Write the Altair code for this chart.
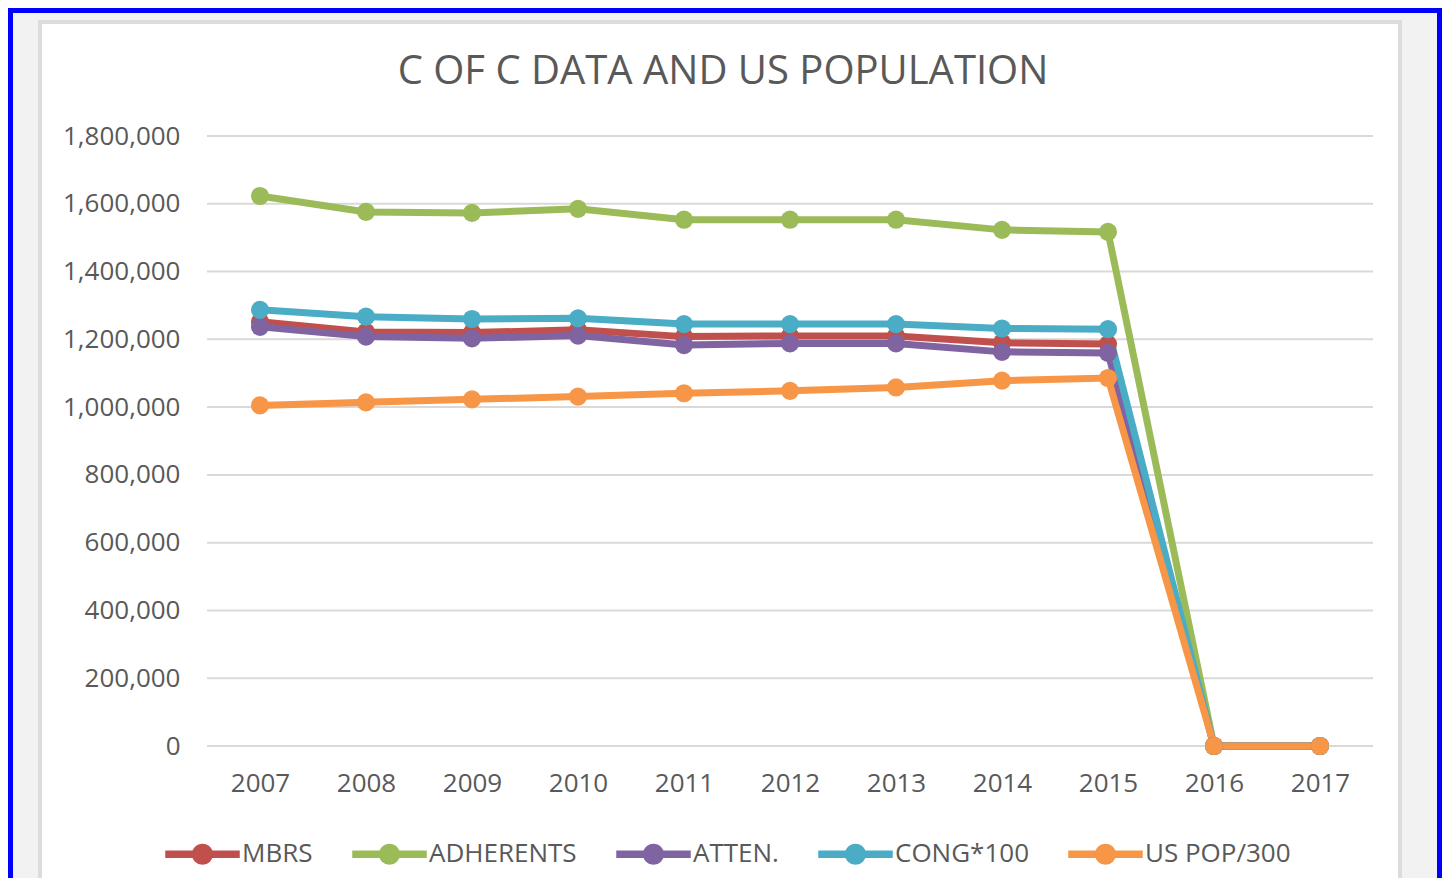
import altair as alt
import pandas as pd

years = ["2007", "2008", "2009", "2010", "2011", "2012", "2013", "2014", "2015", "2016", "2017"]
series_names = ["MBRS", "ADHERENTS", "ATTEN.", "CONG*100", "US POP/300"]
colors = ["#c0504d", "#9bbb59", "#8064a2", "#4bacc6", "#f79646"]
y_ticks = [0, 200000, 400000, 600000, 800000, 1000000, 1200000, 1400000, 1600000, 1800000]
title_text = "C OF C DATA AND US POPULATION"

mbrs = [1252000, 1222000, 1220000, 1228000, 1208000, 1210000, 1210000, 1190000, 1186000, 0, 0]
adherents = [1623000, 1576000, 1573000, 1585000, 1553000, 1553000, 1553000, 1523000, 1517000, 0, 0]
atten = [1237000, 1208000, 1203000, 1211000, 1183000, 1188000, 1188000, 1163000, 1160000, 0, 0]
cong100 = [1287000, 1267000, 1260000, 1262000, 1245000, 1245000, 1245000, 1232000, 1230000, 0, 0]
uspop300 = [1005000, 1014000, 1023000, 1031000, 1041000, 1048000, 1058000, 1078000, 1086000, 0, 0]

all_values = [mbrs, adherents, atten, cong100, uspop300]
rows = []
for name, vals in zip(series_names, all_values):
    for yr, v in zip(years, vals):
        rows.append({"year": yr, "series": name, "value": v})
df = pd.DataFrame(rows)

FONT = "Open Sans"
GREY_TEXT = "#595959"
W, H = 1166, 610

y_scale = alt.Scale(domain=[0, 1800000], nice=False)
y_axis = alt.Axis(title=None, values=y_ticks, labelExpr="format(datum.value, ',')",
                  domain=False, ticks=False, labelFontSize=26, labelColor=GREY_TEXT,
                  labelFont=FONT, labelPadding=27, grid=False, zindex=1)
x_enc = alt.X("year:O", sort=years,
              scale=alt.Scale(type="point", padding=0.5),
              axis=alt.Axis(title=None, labelAngle=0, domain=False, ticks=False,
                            labelFontSize=26, labelColor=GREY_TEXT, labelFont=FONT,
                            labelPadding=24, grid=False, zindex=1))
y_enc = alt.Y("value:Q", scale=y_scale, axis=y_axis)

card = alt.Chart(alt.Data(values=[{}])).mark_rect(
    fill="white", stroke="#dcdcdc", strokeWidth=4
).encode(x=alt.value(-167), x2=alt.value(1193), y=alt.value(-114), y2=alt.value(800))

frame = alt.Chart(alt.Data(values=[{}])).mark_rect(
    fillOpacity=0, stroke="#0000ff", strokeWidth=5
).encode(x=alt.value(-196.5), x2=alt.value(1232.5), y=alt.value(-125.5), y2=alt.value(900))

grid = alt.Chart(pd.DataFrame({"value": y_ticks})).mark_rule(
    color="#d9d9d9", strokeWidth=2
).encode(y=y_enc, x=alt.value(0), x2=alt.value(W))

title = alt.Chart(alt.Data(values=[{"t": title_text}])).mark_text(
    font=FONT, fontSize=40, color=GREY_TEXT, align="center", baseline="alphabetic"
).encode(text="t:N", x=alt.value(516), y=alt.value(-52))

legend_path = ("M-1,-0.085H1V0.085H-1Z "
               "M-0.27,0A0.27,0.27,0,1,1,0.27,0A0.27,0.27,0,1,1,-0.27,0Z")

lines = alt.Chart(df).mark_line(strokeWidth=7).encode(
    x=x_enc, y=y_enc,
    stroke=alt.Stroke("series:N", scale=alt.Scale(domain=series_names, range=colors),
                      sort=series_names,
                      legend=alt.Legend(title=None, orient="none", direction="horizontal",
                                        legendX=-42, legendY=680.5, symbolType=legend_path,
                                        symbolSize=5329, labelFontSize=26,
                                        labelColor=GREY_TEXT, labelFont=FONT,
                                        labelOffset=2, columnPadding=37, zindex=1)),
    detail="series:N",
)

points = alt.Chart(df).mark_point(filled=True, size=330, opacity=1, strokeWidth=0).encode(
    x=x_enc, y=y_enc,
    fill=alt.Fill("series:N", scale=alt.Scale(domain=series_names, range=colors),
                  sort=series_names, legend=None),
)

chart = alt.layer(card, frame, grid, title, lines, points).properties(
    width=W, height=H,
    background="#f2f2f2",
    autosize=alt.AutoSizeParams(type="none"),
    padding={"left": 199, "top": 128, "right": 69, "bottom": 132},
).configure_view(stroke=None)

chart.save("out.html", embed_options={"renderer": "svg", "actions": False})
